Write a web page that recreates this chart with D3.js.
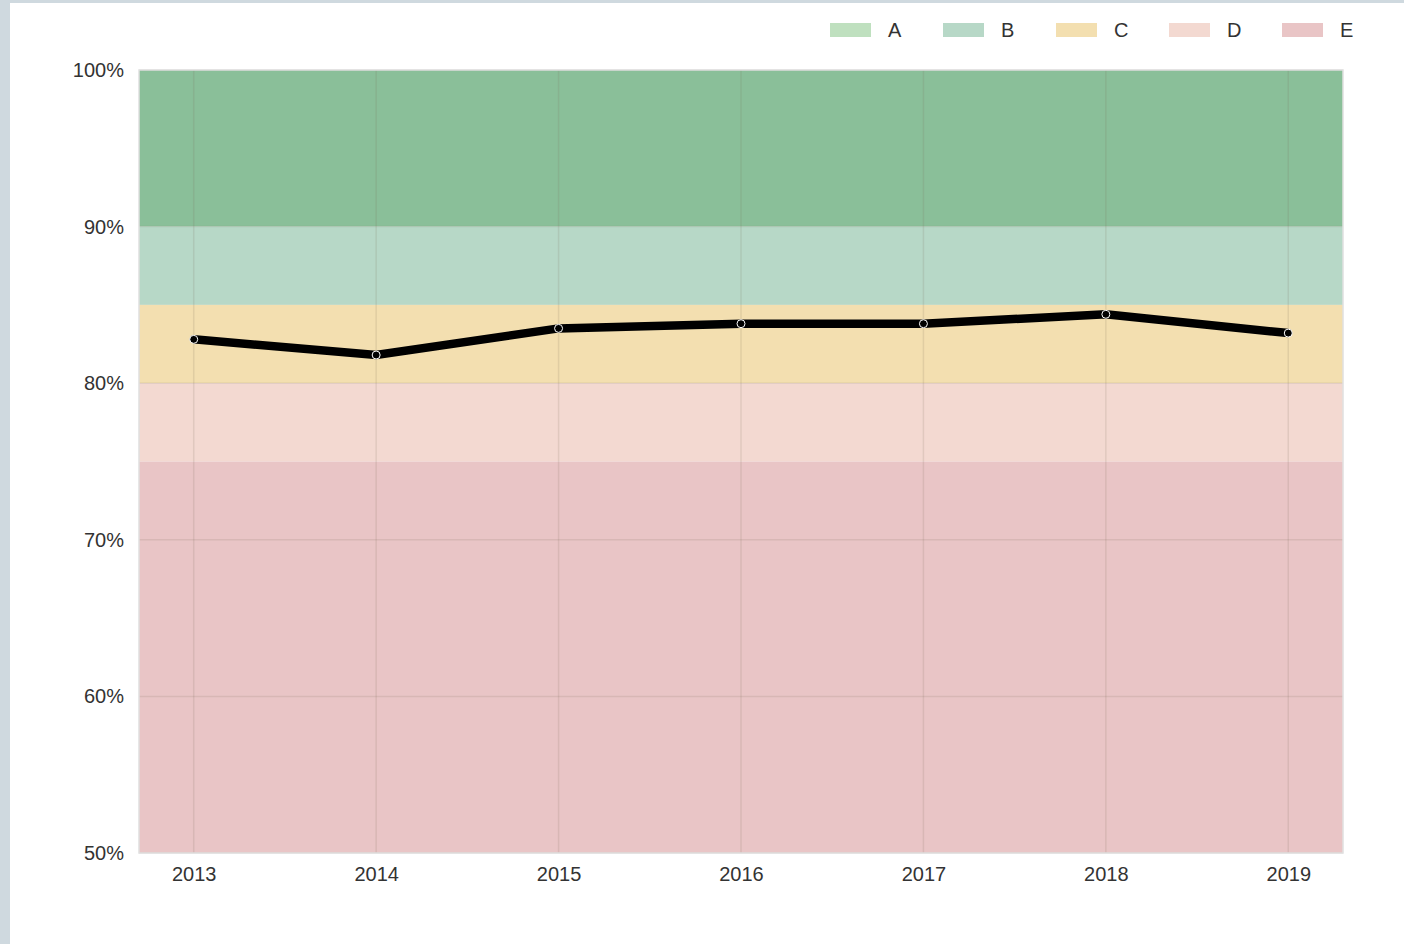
<!DOCTYPE html>
<html>
<head>
<meta charset="utf-8">
<script src="https://cdn.jsdelivr.net/npm/d3@7"></script>
<style>
  html, body { margin: 0; padding: 0; background: #cfd9df; }
  svg { display: block; }
  text { font-family: "Liberation Sans", Arial, sans-serif; fill: #333; }
</style>
</head>
<body>
<script>
// Data
var years = [2013, 2014, 2015, 2016, 2017, 2018, 2019];
var values = [82.8, 81.8, 83.5, 83.8, 83.8, 84.4, 83.2];
var bandNames = ["A", "B", "C", "D", "E"];
var bandLow = [90, 85, 80, 75, 50];
var bandHigh = [100, 90, 85, 80, 75];
var bandColors = ["#8abf99", "#b7d8c7", "#f3dfb0", "#f3d9d1", "#e9c5c6"];
var legendColors = ["#bfe0bf", "#b7d8c7", "#f3dfb0", "#f3d9d1", "#e9c5c6"];
var yTicks = [50, 60, 70, 80, 90, 100];

var W = 1404, H = 944;
var svg = d3.select("body").append("svg")
  .attr("width", W).attr("height", H);

// white page with grey border left/top
svg.append("rect").attr("x", 10).attr("y", 3).attr("width", W - 10).attr("height", H - 3)
  .attr("fill", "#fff");

var plotLeft = 139, plotRight = 1343, plotTop = 70, plotBottom = 853;

var x = d3.scaleLinear().domain([2012.7, 2019.3]).range([plotLeft, plotRight]);
var y = d3.scaleLinear().domain([50, 100]).range([plotBottom, plotTop]);

// bands
svg.selectAll("rect.band")
  .data(bandNames)
  .enter().append("rect")
  .attr("class", "band")
  .attr("x", plotLeft)
  .attr("width", plotRight - plotLeft)
  .attr("y", function(d, i) { return y(bandHigh[i]); })
  .attr("height", function(d, i) { return y(bandLow[i]) - y(bandHigh[i]); })
  .attr("fill", function(d, i) { return bandColors[i]; });

// grid
svg.selectAll("line.vgrid")
  .data(years)
  .enter().append("line")
  .attr("class", "vgrid")
  .attr("x1", function(d) { return x(d); }).attr("x2", function(d) { return x(d); })
  .attr("y1", plotTop).attr("y2", plotBottom)
  .attr("stroke", "#7a6a5a").attr("stroke-opacity", 0.15).attr("stroke-width", 1.5);

svg.selectAll("line.hgrid")
  .data(yTicks)
  .enter().append("line")
  .attr("class", "hgrid")
  .attr("x1", plotLeft).attr("x2", plotRight)
  .attr("y1", function(d) { return y(d); }).attr("y2", function(d) { return y(d); })
  .attr("stroke", "#7a6a5a").attr("stroke-opacity", 0.15).attr("stroke-width", 1.5);

// plot frame
svg.append("rect")
  .attr("x", plotLeft).attr("y", plotTop)
  .attr("width", plotRight - plotLeft).attr("height", plotBottom - plotTop)
  .attr("fill", "none").attr("stroke", "#e0e0e0").attr("stroke-width", 1.5);

// axes
var xAxis = svg.append("g")
  .attr("transform", "translate(0," + plotBottom + ")")
  .call(d3.axisBottom(x).tickValues(years).tickFormat(d3.format("d")).tickSize(0).tickPadding(14));
xAxis.select(".domain").remove();
xAxis.selectAll("text").style("font-size", "20px").attr("fill", "#3a3a3a");

var yAxis = svg.append("g")
  .attr("transform", "translate(" + plotLeft + ",0)")
  .call(d3.axisLeft(y).tickValues(yTicks).tickFormat(function(d) { return d + "%"; }).tickSize(0).tickPadding(15));
yAxis.select(".domain").remove();
yAxis.selectAll("text").style("font-size", "20px").attr("fill", "#3a3a3a");

// line
var line = d3.line()
  .x(function(d, i) { return x(years[i]); })
  .y(function(d) { return y(d); });

svg.append("path")
  .datum(values)
  .attr("d", line)
  .attr("fill", "none")
  .attr("stroke", "#000")
  .attr("stroke-width", 8.5);

svg.selectAll("circle.pt")
  .data(values)
  .enter().append("circle")
  .attr("class", "pt")
  .attr("cx", function(d, i) { return x(years[i]); })
  .attr("cy", function(d) { return y(d); })
  .attr("r", 4)
  .attr("fill", "#000")
  .attr("stroke", "#fff")
  .attr("stroke-width", 1);

// legend
var legend = svg.selectAll("g.leg")
  .data(bandNames)
  .enter().append("g")
  .attr("class", "leg")
  .attr("transform", function(d, i) { return "translate(" + (830 + i * 113) + ",23)"; });

legend.append("rect")
  .attr("width", 41).attr("height", 14)
  .attr("fill", function(d, i) { return legendColors[i]; });

legend.append("text")
  .attr("x", 58).attr("y", 14)
  .style("font-size", "20px")
  .attr("fill", "#3a3a3a")
  .text(function(d) { return d; });
</script>
</body>
</html>
